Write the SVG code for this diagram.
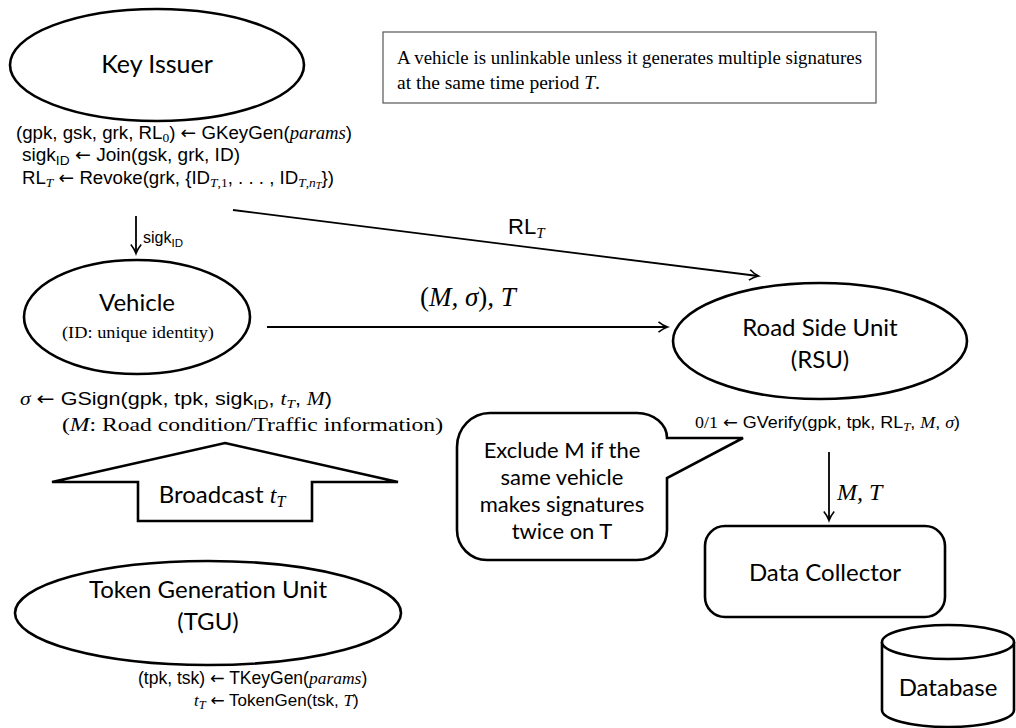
<svg xmlns="http://www.w3.org/2000/svg" width="1016" height="728" viewBox="0 0 1016 728">
<style>
.node{fill:#fff;stroke:#000;stroke-width:2.6}
.lbl{font-family:Lato,"Open Sans",sans-serif;fill:#000;text-anchor:middle}
.m{font-family:"Liberation Sans",sans-serif;fill:#000}
.ar{font-family:"DejaVu Sans",sans-serif;font-style:normal}
.mi{font-family:"Liberation Serif",serif;font-style:italic}
.rm{font-family:"Liberation Serif",serif;font-style:normal}
.conn{stroke:#000;stroke-width:1.8;fill:none}
</style>
<defs>
<marker id="ah" markerWidth="14" markerHeight="14" refX="10" refY="6" orient="auto" markerUnits="userSpaceOnUse">
<path d="M1.5,0.8 Q6,4.5 10.5,6 Q6,7.5 1.5,11.2" fill="none" stroke="#000" stroke-width="1.6"/>
</marker>
</defs>

<g id="key-issuer">
<ellipse class="node" cx="157" cy="65" rx="147" ry="56"/>
<text class="lbl" x="157" y="73" font-size="25">Key Issuer</text>
<text class="m" x="16" y="139" font-size="18" textLength="336" lengthAdjust="spacingAndGlyphs">(gpk, gsk, grk, RL<tspan class="rm" font-size="13" dy="3">0</tspan><tspan dy="-3">) </tspan><tspan class="ar">←</tspan> GKeyGen(<tspan class="mi">params</tspan>)</text>
<text class="m" x="22" y="161" font-size="18" textLength="218" lengthAdjust="spacingAndGlyphs">sigk<tspan font-size="13" dy="4">ID</tspan><tspan dy="-4"> </tspan><tspan class="ar">←</tspan> Join(gsk, grk, ID)</text>
<text class="m" x="22" y="184" font-size="18" textLength="312" lengthAdjust="spacingAndGlyphs">RL<tspan class="mi" font-size="13" dy="3">T</tspan><tspan dy="-3"> </tspan><tspan class="ar">←</tspan> Revoke(grk, {ID<tspan class="mi" font-size="13" dy="3">T</tspan><tspan class="rm" font-size="13">,1</tspan><tspan dy="-3">, . . . , ID</tspan><tspan class="mi" font-size="13" dy="3">T</tspan><tspan class="rm" font-size="13">,</tspan><tspan class="mi" font-size="13">n</tspan><tspan class="mi" font-size="10" dy="2">T</tspan><tspan dy="-5">})</tspan></text>
</g>

<g id="note">
<rect x="383" y="32" width="493" height="71" fill="#fff" stroke="#555" stroke-width="1.2"/>
<text class="rm" x="397" y="64" font-size="18.5" textLength="465" lengthAdjust="spacingAndGlyphs">A vehicle is unlinkable unless it generates multiple signatures</text>
<text class="rm" x="397" y="89" font-size="18.5" textLength="203" lengthAdjust="spacingAndGlyphs">at the same time period <tspan class="mi">T</tspan>.</text>
</g>

<g id="vehicle">
<ellipse class="node" cx="137" cy="317" rx="113" ry="57"/>
<text class="lbl" x="137" y="311" font-size="24">Vehicle</text>
<text class="rm" x="138" y="338" font-size="17" text-anchor="middle" textLength="152" lengthAdjust="spacingAndGlyphs">(ID: unique identity)</text>
<text class="m" x="20" y="405" font-size="18.5" textLength="312" lengthAdjust="spacingAndGlyphs"><tspan class="mi">σ</tspan> <tspan class="ar">←</tspan> GSign(gpk, tpk, sigk<tspan font-size="13" dy="4">ID</tspan><tspan dy="-4">, </tspan><tspan class="mi">t</tspan><tspan class="mi" font-size="13" dy="3">T</tspan><tspan dy="-3">, </tspan><tspan class="mi">M</tspan>)</text>
<text class="rm" x="62" y="431" font-size="19" textLength="381" lengthAdjust="spacingAndGlyphs">(<tspan class="mi">M</tspan>: Road condition/Traffic information)</text>
</g>

<g id="rsu">
<ellipse class="node" cx="820" cy="341" rx="147" ry="58"/>
<text class="lbl" x="820" y="336" font-size="24">Road Side Unit</text>
<text class="lbl" x="820" y="368" font-size="24">(RSU)</text>
<text class="m" x="695" y="428" font-size="16" textLength="265" lengthAdjust="spacingAndGlyphs"><tspan class="rm">0/1</tspan> <tspan class="ar">←</tspan> GVerify(gpk, tpk, RL<tspan class="mi" font-size="11.5" dy="3">T</tspan><tspan dy="-3">, </tspan><tspan class="mi">M</tspan>, <tspan class="mi">σ</tspan>)</text>
</g>

<g id="callout">
<path class="node" stroke-width="1.8" d="M490,413 H637 A30,25 0 0 1 667,438 L743,438 L667,478 V530 A30,30 0 0 1 637,560 H487 A30,30 0 0 1 457,530 V447 A33,34 0 0 1 490,413 Z"/>
<text class="lbl" x="562" y="458" font-size="22">Exclude M if the</text>
<text class="lbl" x="562" y="485" font-size="22">same vehicle</text>
<text class="lbl" x="562" y="512" font-size="22">makes signatures</text>
<text class="lbl" x="562" y="539" font-size="22">twice on T</text>
</g>

<g id="broadcast">
<polygon class="node" points="225,443 398,482 312,482 312,521 138,521 138,482 52,482"/>
<text class="lbl" x="222" y="503" font-size="24">Broadcast <tspan class="mi">t</tspan><tspan class="mi" font-size="16" dy="4">T</tspan></text>
</g>

<g id="tgu">
<ellipse class="node" cx="208" cy="613" rx="193" ry="52"/>
<text class="lbl" x="208" y="598" font-size="24">Token Generation Unit</text>
<text class="lbl" x="208" y="630" font-size="24">(TGU)</text>
<text class="m" x="138" y="684" font-size="17.5">(tpk, tsk) <tspan class="ar">←</tspan> TKeyGen(<tspan class="mi">params</tspan>)</text>
<text class="m" x="194" y="706" font-size="17">
<tspan class="mi">t</tspan><tspan class="mi" font-size="12.5" dy="3">T</tspan><tspan dy="-3"> </tspan><tspan class="ar">←</tspan> TokenGen(tsk, <tspan class="mi">T</tspan>)</text>
</g>

<g id="data-collector">
<rect class="node" x="705" y="526" width="240" height="91" rx="20"/>
<text class="lbl" x="825" y="581" font-size="24">Data Collector</text>
</g>

<g id="database">
<path class="node" d="M882,642 V710 A66,17 0 0 0 1014,710 V642"/>
<ellipse class="node" cx="948" cy="642" rx="66" ry="17"/>
<text class="lbl" x="948" y="696" font-size="24">Database</text>
</g>

<g id="connectors">
<line class="conn" x1="136" y1="216" x2="136" y2="253" marker-end="url(#ah)"/>
<text class="m" x="143" y="243" font-size="16">sigk<tspan font-size="11.5" dy="4">ID</tspan></text>
<line class="conn" x1="233" y1="210" x2="758" y2="276" marker-end="url(#ah)"/>
<text class="m" x="508" y="234" font-size="22">RL<tspan class="mi" font-size="15" dy="4">T</tspan></text>
<line class="conn" x1="267" y1="327" x2="667" y2="327" marker-end="url(#ah)"/>
<text class="mi" x="420" y="306" font-size="27"><tspan class="rm">(</tspan>M, σ<tspan class="rm">)</tspan>, T</text>
<line class="conn" x1="829" y1="452" x2="829" y2="520" marker-end="url(#ah)"/>
<text class="mi" x="837" y="500" font-size="24">M, T</text>
</g>
</svg>
